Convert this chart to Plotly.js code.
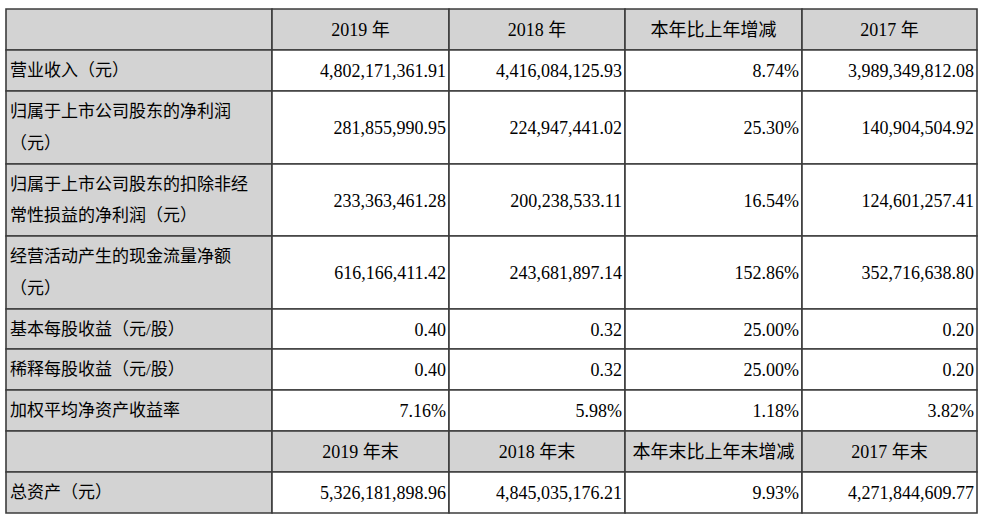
<!DOCTYPE html>
<html>
<head>
<meta charset="utf-8">
<script src="https://cdn.plot.ly/plotly-3.0.1.min.js"></script>
<style>html,body{margin:0;padding:0;background:#fff;}#chart{width:984px;height:522px;}</style>
</head>
<body>
<div id="chart"></div>
<script>
// ---- data ----
var headers1 = ["", "2019 年", "2018 年", "本年比上年增减", "2017 年"];
var categories = [
  ["营业收入（元）"],
  ["归属于上市公司股东的净利润", "（元）"],
  ["归属于上市公司股东的扣除非经", "常性损益的净利润（元）"],
  ["经营活动产生的现金流量净额", "（元）"],
  ["基本每股收益（元/股）"],
  ["稀释每股收益（元/股）"],
  ["加权平均净资产收益率"]
];
var values2019 = ["4,802,171,361.91", "281,855,990.95", "233,363,461.28", "616,166,411.42", "0.40", "0.40", "7.16%"];
var values2018 = ["4,416,084,125.93", "224,947,441.02", "200,238,533.11", "243,681,897.14", "0.32", "0.32", "5.98%"];
var changeYoY  = ["8.74%", "25.30%", "16.54%", "152.86%", "25.00%", "25.00%", "1.18%"];
var values2017 = ["3,989,349,812.08", "140,904,504.92", "124,601,257.41", "352,716,638.80", "0.20", "0.20", "3.82%"];
var headers2 = ["", "2019 年末", "2018 年末", "本年末比上年末增减", "2017 年末"];
var assetLabel = ["总资产（元）"];
var assetValues = ["5,326,181,898.96", "4,845,035,176.21", "9.93%", "4,271,844,609.77"];

// ---- layout geometry (pixels) ----
var colEdges = [6, 272, 449, 625, 802, 977];
var rowEdges = [9, 50, 91, 164, 236, 309, 349, 390, 431, 472, 513];
var GRAY = "#d3d3d3", LINE = "#3c3c3c";
var FONT = "Liberation Serif, 'Noto Sans CJK SC', serif";

// Build row list: type header / data
var rows = [];
rows.push({header: true, cells: headers1});
for (var i = 0; i < categories.length; i++) {
  rows.push({header: false, label: categories[i], cells: [values2019[i], values2018[i], changeYoY[i], values2017[i]]});
}
rows.push({header: true, cells: headers2});
rows.push({header: false, label: assetLabel, cells: assetValues});

var shapes = [];
var groups = {};
function addText(key, pos, size, x, y, t) {
  if (!groups[key]) groups[key] = {x: [], y: [], text: [], pos: pos, size: size};
  groups[key].x.push(x); groups[key].y.push(y); groups[key].text.push(t);
}

rows.forEach(function (r, ri) {
  var y0 = rowEdges[ri], y1 = rowEdges[ri + 1], yc = (y0 + y1) / 2;
  for (var c = 0; c < 5; c++) {
    var x0 = colEdges[c], x1 = colEdges[c + 1];
    var fill = (r.header || c === 0) ? GRAY : "#ffffff";
    shapes.push({type: "rect", xref: "x", yref: "y", x0: x0, x1: x1, y0: y0, y1: y1,
      fillcolor: fill, line: {color: LINE, width: 1.6}, layer: "below"});
    if (r.header) {
      if (r.cells[c]) addText("hdr", "middle center", 18, (x0 + x1) / 2, yc + 2, r.cells[c]);
    } else if (c === 0) {
      var n = r.label.length;
      r.label.forEach(function (line, li) {
        var yy = n === 1 ? yc + 1.5 : yc + 1 + (li - (n - 1) / 2) * 31.5;
        addText("lbl", "middle right", 17, x0 + 4, yy, line);
      });
    } else {
      addText("val", "middle left", 18, x1 - 3, yc + 2, r.cells[c - 1]);
    }
  }
});

var traces = Object.keys(groups).map(function (k) {
  var g = groups[k];
  return {type: "scatter", mode: "text", x: g.x, y: g.y, text: g.text,
    textposition: g.pos, textfont: {family: FONT, size: g.size, color: "#000"},
    hoverinfo: "skip", showlegend: false, cliponaxis: false};
});

var layout = {
  width: 984, height: 522,
  margin: {l: 0, r: 0, t: 0, b: 0, pad: 0},
  paper_bgcolor: "#ffffff", plot_bgcolor: "#ffffff",
  xaxis: {range: [0, 984], visible: false, fixedrange: true},
  yaxis: {range: [522, 0], visible: false, fixedrange: true},
  shapes: shapes, showlegend: false, hovermode: false
};
Plotly.newPlot("chart", traces, layout, {displayModeBar: false, staticPlot: true});
</script>
</body>
</html>
